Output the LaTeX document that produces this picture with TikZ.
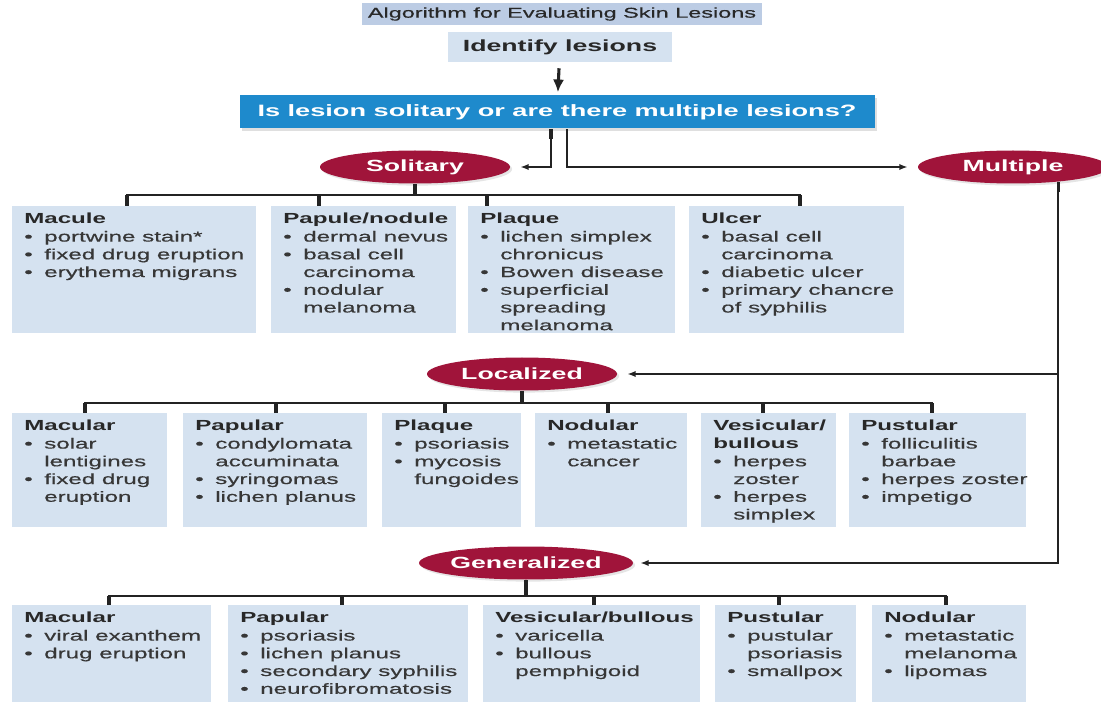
\documentclass[tikz,border=0pt]{standalone}
\usepackage{fontspec}
\setmainfont{Liberation Sans}[FakeStretch=1.65, UprightFeatures={FakeBold=0.5}]
\usetikzlibrary{arrows.meta,shapes.geometric,shadows}
\definecolor{boxblue}{RGB}{213,226,240}
\definecolor{titleblue}{RGB}{188,204,228}
\definecolor{qblue}{RGB}{30,138,204}
\definecolor{ovalred}{RGB}{160,20,58}
\definecolor{txtgray}{RGB}{55,55,55}
\definecolor{headgray}{RGB}{40,40,40}
\definecolor{linegray}{RGB}{35,35,35}
\newlength{\px}\setlength{\px}{0.025cm}
\newcommand{\lsfont}{\fontsize{10.4}{12.6}\selectfont}
\newcommand{\hd}[1]{{\bfseries\color{headgray}#1}}
\newcommand{\bl}{\makebox[20\px][l]{\textbullet}}
\newcommand{\ct}{\hspace*{20\px}}
\tikzstyle{conn}=[draw=linegray, line width=1.4pt]
\tikzstyle{tick}=[draw=linegray, line width=2.2pt]
\tikzstyle{arrow}=[conn, arrows={-{Latex[length=6pt,width=4.5pt]}}, shorten >=10\px]
\tikzset{
    oval/.style={ellipse, fill=ovalred, text=white, inner sep=0pt,
        font=\fontsize{11.5}{13}\selectfont\bfseries,
        minimum width=#1, minimum height=33\px,
        drop shadow={opacity=0.2, shadow xshift=1.5pt, shadow yshift=-1.5pt}},
    lstext/.style={anchor=north west, align=left, inner xsep=12\px, inner ysep=7\px,
        font=\lsfont, text=txtgray},
    lesion/.style n args={3}{fill=boxblue, anchor=north west, inner sep=0pt,
        minimum width=#1, minimum height=#2, label={[lstext]north west:{#3}}}
}

\begin{document}
\begin{tikzpicture}[x=0.025cm, y=-0.025cm]
  \path[use as bounding box, fill=white] (0,0) rectangle (1101,702);

  \node[fill=titleblue, minimum width=400\px, minimum height=22\px, inner sep=0pt,
        text=headgray, font=\fontsize{10.1}{12}\selectfont] (ttl) at (562,14) {Algorithm for Evaluating Skin Lesions};
  \node[fill=boxblue, minimum width=224\px, minimum height=30\px, inner sep=0pt,
        text=headgray, font=\fontsize{11.5}{13}\selectfont\bfseries] (idf) at (560,47) {Identify lesions};
  \node[fill=qblue, minimum width=635\px, minimum height=33\px, inner sep=0pt, text=white,
        font=\fontsize{11.7}{13}\selectfont\bfseries,
        drop shadow={opacity=0.25, shadow xshift=2pt, shadow yshift=-2pt}] (qst) at (557,112) {Is lesion solitary or are there multiple lesions?};

  \node[oval=190\px] (sol) at (415,167) {Solitary};
  \node[oval=190\px] (mul) at (1013,167) {Multiple};
  \node[oval=190\px] (loc) at (522,374) {Localized};
  \node[oval=199\px] (gen) at (526,563) {Generalized};

  % solitary
  \node[lesion={244\px}{127\px}{\hd{Macule}\\ \bl portwine stain*\\ \bl fixed drug eruption\\ \bl erythema migrans}] (mac) at (12,206) {};
  \node[lesion={185\px}{127\px}{\hd{Papule/nodule}\\ \bl dermal nevus\\ \bl basal cell\\ \ct carcinoma\\ \bl nodular\\ \ct melanoma}] (pap) at (271,206) {};
  \node[lesion={207\px}{127\px}{\hd{Plaque}\\ \bl lichen simplex\\ \ct chronicus\\ \bl Bowen disease\\ \bl superficial\\ \ct spreading\\ \ct melanoma}] (plq) at (468,206) {};
  \node[lesion={215\px}{127\px}{\hd{Ulcer}\\ \bl basal cell\\ \ct carcinoma\\ \bl diabetic ulcer\\ \bl primary chancre\\ \ct of syphilis}] (ulc) at (689,206) {};

  % localized
  \node[lesion={155\px}{114\px}{\hd{Macular}\\ \bl solar\\ \ct lentigines\\ \bl fixed drug\\ \ct eruption}] (lmac) at (12,413) {};
  \node[lesion={184\px}{114\px}{\hd{Papular}\\ \bl condylomata\\ \ct accuminata\\ \bl syringomas\\ \bl lichen planus}] (lpap) at (183,413) {};
  \node[lesion={139\px}{114\px}{\hd{Plaque}\\ \bl psoriasis\\ \bl mycosis\\ \ct fungoides}] (lplq) at (382,413) {};
  \node[lesion={152\px}{114\px}{\hd{Nodular}\\ \bl metastatic\\ \ct cancer}] (lnod) at (535,413) {};
  \node[lesion={135\px}{114\px}{\hd{Vesicular/}\\ \hd{bullous}\\ \bl herpes\\ \ct zoster\\ \bl herpes\\ \ct simplex}] (lves) at (701,413) {};
  \node[lesion={177\px}{114\px}{\hd{Pustular}\\ \bl folliculitis\\ \ct barbae\\ \bl herpes zoster\\ \bl impetigo}] (lpus) at (849,413) {};

  % generalized
  \node[lesion={199\px}{97\px}{\hd{Macular}\\ \bl viral exanthem\\ \bl drug eruption}] (gmac) at (12,605) {};
  \node[lesion={240\px}{97\px}{\hd{Papular}\\ \bl psoriasis\\ \bl lichen planus\\ \bl secondary syphilis\\ \bl neurofibromatosis}] (gpap) at (228,605) {};
  \node[lesion={217\px}{97\px}{\hd{Vesicular/bullous}\\ \bl varicella\\ \bl bullous\\ \ct pemphigoid}] (gves) at (483,605) {};
  \node[lesion={141\px}{97\px}{\hd{Pustular}\\ \bl pustular\\ \ct psoriasis\\ \bl smallpox}] (gpus) at (715,605) {};
  \node[lesion={154\px}{97\px}{\hd{Nodular}\\ \bl metastatic\\ \ct melanoma\\ \bl lipomas}] (gnod) at (872,605) {};

  % connectors
  \draw[conn, line width=2.2pt, -{Latex[length=9pt,width=8pt]}, shorten <=6\px, shorten >=3\px] (idf) -- (qst);
  \draw[arrow] (qst.south -| 551,0) |- (sol.east);
  \draw[arrow] (qst.south -| 567,0) |- (mul.west);
  \draw[arrow] (mul.-18) |- (loc.east);
  \draw[arrow, shorten >=7\px] (mul.-18) |- (gen.east);
  \draw[tick] (qst.south -| 551,0) -- ++(0,10);
  \draw[tick] (mul.-18) -- ++(0,10);

  \draw[conn] (mac.north -| 127,0) -- ++(0,-11) coordinate (solbus) -| (ulc.north -| 800,0);
  \draw[tick] (sol.south) -- (sol.south |- solbus);
  \foreach \b/\x in {mac/127, pap/319, plq/487, ulc/800}
    \draw[tick] (\b.north -| \x,0) -- ++(0,-11);

  \draw[conn] (lmac.north -| 85,0) -- ++(0,-10) coordinate (locbus) -| (lpus.north -| 932,0);
  \draw[tick] (loc.south) -- (loc.south |- locbus);
  \foreach \b/\x in {lmac/85, lpap/276, lplq/445, lnod/608, lves/763, lpus/932}
    \draw[tick] (\b.north -| \x,0) -- ++(0,-10);

  \draw[conn] (gmac.north -| 109,0) -- ++(0,-9) coordinate (genbus) -| (gnod.north -| 946,0);
  \draw[tick] (gen.south) -- (gen.south |- genbus);
  \foreach \b/\x in {gmac/109, gpap/342, gves/594, gpus/779, gnod/946}
    \draw[tick] (\b.north -| \x,0) -- ++(0,-9);
\end{tikzpicture}
\end{document}
